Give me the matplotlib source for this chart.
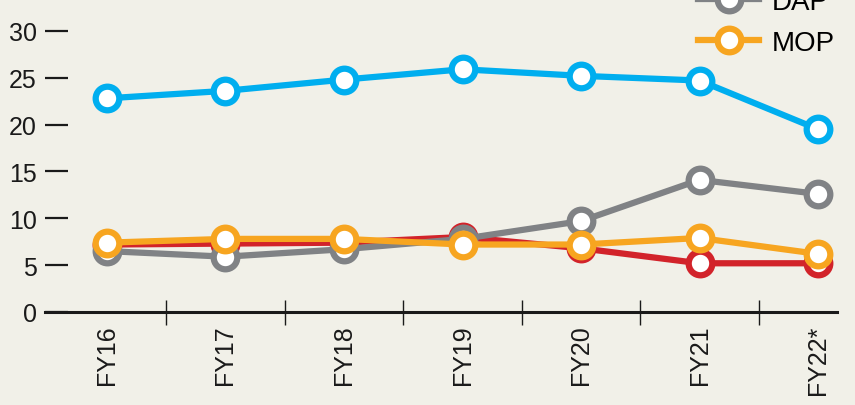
import matplotlib.pyplot as plt
from matplotlib.lines import Line2D

years = ['FY16', 'FY17', 'FY18', 'FY19', 'FY20', 'FY21', 'FY22*']
urea = [22.8, 23.6, 24.8, 25.9, 25.2, 24.7, 19.5]
npk = [7.2, 7.3, 7.4, 8.0, 6.8, 5.2, 5.2]
dap = [6.5, 5.9, 6.7, 7.8, 9.7, 14.1, 12.6]
mop = [7.4, 7.8, 7.8, 7.2, 7.2, 7.9, 6.2]

series = [('Urea', urea, '#00aeef'), ('NPK', npk, '#d2232a'),
          ('DAP', dap, '#808285'), ('MOP', mop, '#f7a520')]

bg = '#f1f0e8'
ink = '#1a1a1a'
plt.rcParams['font.family'] = ['Liberation Sans', 'DejaVu Sans']

fig = plt.figure(figsize=(8.55, 4.06), dpi=100, facecolor=bg)
ax = fig.add_axes([45 / 855, 93 / 406, 792 / 855, 313 / 406])
ax.set_facecolor(bg)

x = list(range(len(years)))
handles = []
for name, vals, col in series:
    ax.plot(x, vals, color=col, lw=4.5, marker='o', ms=17, mfc='white',
            mec=col, mew=4.5, clip_on=False, solid_capstyle='round')
    handles.append(Line2D([0], [0], color=col, lw=4.5, marker='o', ms=17,
                          mfc='white', mec=col, mew=4.5, label=name))

ax.set_xlim(-0.523, 6.16)
ax.set_ylim(0, 33.4)
ax.set_yticks([0, 5, 10, 15, 20, 25, 30])
ax.set_xticks(x)
ax.set_xticklabels(years, rotation=90)
ax.set_xticks([i + 0.5 for i in range(6)], minor=True)

for s in ['top', 'right', 'left']:
    ax.spines[s].set_visible(False)
ax.spines['bottom'].set_linewidth(2.2)
ax.spines['bottom'].set_color(ink)

ax.tick_params(axis='y', direction='in', length=16.5, width=1.6, pad=6,
               labelsize=18, color=ink, labelcolor=ink)
ax.tick_params(axis='x', which='major', length=0, labelsize=18, pad=9,
               labelcolor=ink)
ax.tick_params(axis='x', which='minor', direction='inout', length=18,
               width=1.0, color=ink)

fig.legend(handles=handles, loc='lower left', bbox_to_anchor=(698 / 855, 1 - 57 / 406),
           frameon=False, fontsize=20, handlelength=2.2, labelspacing=0.55,
           handletextpad=0.45, borderpad=0, borderaxespad=0)

fig.text(0.015, 1.0 + 12 / 406, 'Sales of fertilisers (million tonnes)', fontsize=17,
         va='bottom', color=ink)

fig.savefig('out.png', dpi=100, facecolor=bg)
